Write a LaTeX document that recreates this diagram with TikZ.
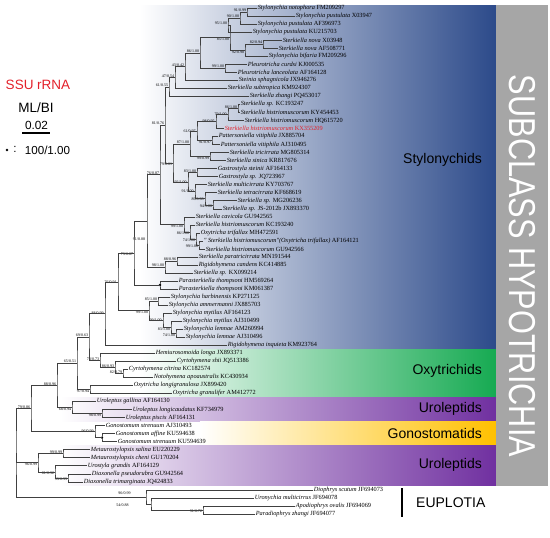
\documentclass[tikz,border=0pt]{standalone}
\usepackage{fontspec}
\setmainfont{Liberation Serif}
\newfontfamily\arialf{Liberation Sans}
\usetikzlibrary{calc}
\definecolor{stylo}{HTML}{2C4A8A}
\definecolor{oxy}{HTML}{16AA52}
\definecolor{uro}{HTML}{7030A0}
\definecolor{gono}{HTML}{FFC000}
\definecolor{hgray}{HTML}{A6A6A6}
\definecolor{ssured}{HTML}{E3202A}
\tikzset{
  leaf/.style={anchor=west, inner sep=0.6pt, font=\fontsize{6.3}{6.3}\selectfont},
  bs/.style={inner sep=0.3pt, font=\fontsize{4}{4}\selectfont},
  br/.style={draw=black!75, line width=0.45pt},
  grp/.style={anchor=east, inner sep=0pt, font=\arialf\fontsize{14}{14}\selectfont},
  legend/.style={inner sep=0pt, font=\arialf\fontsize{13.5}{13.5}\selectfont}
}
\newcommand\tx[2]{\textit{#1} #2}
\newcommand\lf[3]{\node[leaf] (L#1) at (#2,{8+8.03*(#1-1)}) {#3};}
\newcommand\tnode[4]{\path let \p1=($(#3)!0.5!(#4)$) in coordinate (#1) at (#2pt,\y1);
  \draw[br] (#3) -| (#1) |- (#4);}
\newcommand\tna[5]{\tnode{#1}{#2}{#3}{#4}\node[bs,anchor=south east] (b#1) at ([xshift=-0.4pt,yshift=-0.3pt]#1) {#5};}
\newcommand\tnb[5]{\tnode{#1}{#2}{#3}{#4}\node[bs,anchor=north east] (b#1) at ([xshift=-0.4pt,yshift=0.3pt]#1) {#5};}
\newcommand\tnc[5]{\tnode{#1}{#2}{#3}{#4}\node[bs,anchor=east] (b#1) at ([xshift=-0.8pt]#1) {#5};}
\newcommand\tnx[6]{\tnode{#1}{#2}{#3}{#4}\node[bs,anchor=east] (b#1) at (#6) {#5};}
\newcommand\tnd[4]{\tnode{#1}{#2}{#3}{#4}\fill (#1) circle (1.3pt);}
\begin{document}
\begin{tikzpicture}[x=1pt,y=-1pt]
\path[use as bounding box] (0,0) rectangle (550,538);
% coloured bands
\shade[left color=white, middle color=stylo!45, right color=stylo] (140,5) rectangle (496,349.3);
\shade[left color=white, middle color=oxy!35, right color=oxy] (140,349.3) rectangle (496,397.5);
\shade[left color=white, middle color=uro!35, right color=uro] (60,397.5) rectangle (496,421.6);
\shade[left color=white, middle color=gono!45, right color=gono] (200,421.6) rectangle (496,445.7);
\shade[left color=white, middle color=uro!35, right color=uro] (60,445.7) rectangle (496,485.8);
\fill[hgray] (496,5) rectangle (548,485.8);
\node[rotate=-90, text=white, inner sep=0pt] (sub) at (522,266)
  {\scalebox{1}[1.22]{\arialf\fontsize{30.7}{30.7}\selectfont SUBCLASS HYPOTRICHIA}};
\node[grp] (g1) at (482,160) {Stylonychids};
\node[grp] (g2) at (482,371) {Oxytrichids};
\node[grp] (g3) at (482,409) {Uroleptids};
\node[grp] (g4) at (482,433.5) {Gonostomatids};
\node[grp] (g5) at (482,465) {Uroleptids};
\coordinate (eupa) at (402,488);
\coordinate (eupb) at (402,517);
\draw[line width=1.5pt] (eupa) -- (eupb);
\node[grp, anchor=west] (g6) at (416,503) {EUPLOTIA};
% legend
\node[legend, text=ssured] (ssu) at (38,85) {SSU rRNA};
\node[legend] (mlbi) at (36,108) {ML/BI};
\node[legend, font=\arialf\fontsize{11.8}{11.8}\selectfont] (scl) at (36.5,125) {0.02};
\coordinate (sba) at (22,133);
\coordinate (sbb) at (50,133);
\draw[line width=1.3pt] (sba) -- (sbb);
\fill (7,150) circle (1.3pt);
\node[legend, font=\arialf\fontsize{11.6}{11.6}\selectfont] (legc) at (15,149.5) {:};
\node[legend, font=\arialf\fontsize{11.6}{11.6}\selectfont] (leg) at (47.5,150) {100/1.00};
% leaves
\lf{1}{257}{\tx{Stylonychia notophora}{FM209297}}
\lf{2}{295}{\tx{Stylonychia pustulata}{X03947}}
\lf{3}{257}{\tx{Stylonychia pustulata}{AF396973}}
\lf{4}{252}{\tx{Stylonychia pustulata}{KU215703}}
\lf{5}{282}{\tx{Sterkiella nova}{X03948}}
\lf{6}{278}{\tx{Sterkiella nova}{AF508771}}
\lf{7}{268}{\tx{Stylonychia bifaria}{FM209296}}
\lf{8}{247}{\tx{Pleurotricha curdsi}{KJ000535}}
\lf{9}{237}{\tx{Pleurotricha lanceolata}{AF164128}}
\lf{10}{238}{\tx{Steinia sphagnicola}{JX946276}}
\lf{11}{227}{\tx{Sterkiella subtropica}{KM924307}}
\lf{12}{249}{\tx{Sterkiella zhangi}{PQ453017}}
\lf{13}{240}{\tx{Sterkiella sp.}{KC193247}}
\lf{14}{240}{\tx{Sterkiella histriomuscorum}{KY454453}}
\lf{15}{244}{\tx{Sterkiella histriomuscorum}{HQ615720}}
\lf{16}{224}{\color{ssured}\tx{Sterkiella histriomuscorum}{KX355209}}
\lf{17}{218}{\tx{Pattersoniella vitiphila}{JX885704}}
\lf{18}{220}{\tx{Pattersoniella vitiphila}{AJ310495}}
\lf{19}{229}{\tx{Sterkiella tricirrata}{MG805314}}
\lf{20}{226}{\tx{Sterkiella sinica}{KR817676}}
\lf{21}{217}{\tx{Gastrostyla steinii}{AF164133}}
\lf{22}{218}{\tx{Gastrostyla sp.}{JQ723967}}
\lf{23}{207}{\tx{Sterkiella multicirrata}{KY703767}}
\lf{24}{217}{\tx{Sterkiella tetracirrata}{KF668619}}
\lf{25}{237}{\tx{Sterkiella sp.}{MG206236}}
\lf{26}{222}{\tx{Sterkiella sp.}{JS-2012b JX893370}}
\lf{27}{195}{\tx{Sterkiella cavicola}{GU942565}}
\lf{28}{195}{\tx{Sterkiella histriomuscorum}{KC193240}}
\lf{29}{200}{\tx{Oxytricha trifallax}{MH472591}}
\lf{30}{203}{\textit{\textquotedbl\ Sterkiella histriomuscorum\textquotedbl(Oxytricha trifallax)} AF164121}
\lf{31}{205}{\tx{Sterkiella histriomuscorum}{GU942566}}
\lf{32}{198}{\tx{Sterkiella paratricirrata}{MN191544}}
\lf{33}{198}{\tx{Rigidohymena candens}{KC414885}}
\lf{34}{193}{\tx{Sterkiella sp.}{KX099214}}
\lf{35}{178}{\tx{Parasterkiella thompsoni}{HM569264}}
\lf{36}{178}{\tx{Parasterkiella thompsoni}{KM061387}}
\lf{37}{170}{\tx{Stylonychia harbinensis}{KP271125}}
\lf{38}{168}{\tx{Stylonychia ammermanni}{JX885703}}
\lf{39}{172}{\tx{Stylonychia mytilus}{AF164123}}
\lf{40}{182}{\tx{Stylonychia mytilus}{AJ310499}}
\lf{41}{183}{\tx{Stylonychia lemnae}{AM260994}}
\lf{42}{185}{\tx{Stylonychia lemnae}{AJ310496}}
\lf{43}{227}{\tx{Rigidohymena inquieta}{KM923764}}
\lf{44}{155}{\tx{Hemiurosomoida longa}{JX893371}}
\lf{45}{176}{\tx{Cyrtohymena shii}{JQ513386}}
\lf{46}{128}{\tx{Cyrtohymena citrina}{KC182574}}
\lf{47}{153}{\tx{Notohymena apoaustralis}{KC430934}}
\lf{48}{133}{\tx{Oxytricha longigranulosa}{JX899420}}
\lf{49}{172}{\tx{Oxytricha granulifer}{AM412772}}
\lf{50}{96}{\tx{Uroleptus gallina}{AF164130}}
\lf{51}{132}{\tx{Uroleptus longicaudatus}{KF734979}}
\lf{52}{125}{\tx{Uroleptus piscis}{AF164131}}
\lf{53}{105}{\tx{Gonostomum strenuum}{AJ310493}}
\lf{54}{115}{\tx{Gonostomum affine}{KU594638}}
\lf{55}{117}{\tx{Gonostomum strenuum}{KU594639}}
\lf{56}{90}{\tx{Metaurostylopsis salina}{EU220229}}
\lf{57}{90}{\tx{Metaurostylopsis cheni}{GU170204}}
\lf{58}{87}{\tx{Urostyla grandis}{AF164129}}
\lf{59}{91}{\tx{Diaxonella pseudorubra}{GU942564}}
\lf{60}{83}{\tx{Diaxonella trimarginata}{JQ424833}}
\lf{61}{313}{\tx{Diophrys scutum}{JF694073}}
\lf{62}{254}{\tx{Uronychia multicirrus}{JF694078}}
\lf{63}{295}{\tx{Apodiophrys ovalis}{JF694069}}
\lf{64}{255}{\tx{Paradiophrys zhangi}{JF694077}}
% internal nodes
\tna{a1}{247}{L1.west}{L2.west}{91/0.99}
\tna{a2}{240}{a1}{L3.west}{90/1.00}
\tna{a3}{228}{a2}{L4.west}{95/1.00}
\tna{a4}{263}{L5.west}{L6.west}{82/0.94}
\tnb{a5}{245}{a4}{L7.west}{92/0.98}
\tnb{a6}{230}{a3}{a5}{85/1.00}
\tna{a7}{225}{L8.west}{L9.west}{99/1.00}
\tna{a8}{200}{a6}{a7}{86/1.00}
\tna{a9}{185}{a8}{L10.west}{43/0.42}
\tna{a10}{175}{a9}{L11.west}{47/0.54}
\tna{a11}{169}{a10}{L12.west}{61/0.55}
\tna{b1}{238}{L13.west}{L14.west}{86/1.00}
\tnc{b2}{228}{b1}{L15.west}{79/1.00}
\tnc{b3}{216}{b2}{L16.west}{98/0.95}
\tnb{b4}{212}{L17.west}{L18.west}{91/0.97}
\tnc{b5}{197}{b3}{b4}{61/0.97}
\tnb{b6}{210}{L19.west}{L20.west}{99/0.99}
\tna{b7}{190}{b5}{b6}{87/1.00}
\tna{b8}{197}{L21.west}{L22.west}{83/1.00}
\tnb{b9}{213}{L25.west}{L26.west}{94/1.00}
\tnc{b10}{205}{L24.west}{b9}{89/0.98}
\tnc{b11}{195}{L23.west}{b10}{91/1.00}
\tnc{b12}{188}{b8}{b11}{92/1.00}
\tnb{b13}{173}{b7}{b12}{79/0.61}
\tna{b14}{165}{a11}{b13}{81/0.76}
\tnb{c1}{199}{L30.west}{L31.west}{99/1.00}
\tnb{c2}{196}{L29.west}{c1}{74/1.00}
\tnb{c3}{190}{L28.west}{c2}{86/1.00}
\tnb{c4}{184}{L27.west}{c3}{99/1.00}
\tna{c5}{160}{b14}{c4}{76/0.87}
\tna{c6}{177}{L32.west}{L33.west}{88/0.96}
\tna{c7}{165}{c6}{L34.west}{98/1.00}
\tnx{c8}{147}{c5}{c7}{91/0.88}{145.5,239}
\tnd{c9}{160}{L35.west}{L36.west}
\tnb{c10}{134}{c8}{c9}{79/0.87}
\tna{d1}{158}{L37.west}{L38.west}{85/1.00}
\tnb{d2}{176}{L41.west}{L42.west}{74/1.00}
\tnb{d3}{171}{L40.west}{d2}{83/1.00}
\tnc{d4}{163}{L39.west}{d3}{99/1.00}
\tnb{d5}{149}{d1}{d4}{99/1.00}
\tnc{d6}{118}{c10}{d5}{76/0.91}
\tnc{d7}{105}{d6}{L43.west}{88/0.99}
\tna{e1}{123}{L46.west}{L47.west}{82/0.79}
\tna{e2}{115}{L45.west}{e1}{86/0.93}
\tna{e3}{100}{L44.west}{e2}{78/0.73}
\tna{e4}{89}{d7}{e3}{69/0.63}
\tnb{e5}{90}{L48.west}{L49.west}{97/0.94}
\tna{e6}{77}{e4}{e5}{65/0.51}
\tnb{f1}{102}{L51.west}{L52.west}{98/0.99}
\tnb{f2}{72}{L50.west}{f1}{68/0.94}
\tna{f3}{57}{e6}{f2}{88/0.96}
\tnd{g2}{102}{L54.west}{L55.west}
\tnc{g1}{95}{L53.west}{g2}{96/0.99}
\tna{p}{31}{f3}{g1}{79/0.86}
\tna{m1}{63}{L56.west}{L57.west}{99/0.99}
\tnb{m2}{68}{L59.west}{L60.west}{99/0.99}
\tnb{m3}{55}{L58.west}{m2}{81/0.92}
\tnb{u}{38}{m1}{m3}{96/0.99}
\tnb{x3}{203}{L63.west}{L64.west}{91/0.72}
\tnx{x2}{151}{L62.west}{x3}{54/0.88}{129,505.5}
\tnx{x1}{146}{L61.west}{x2}{96/0.99}{131,493.5}
\path let \p1=($(p)!0.5!(x1)$) in coordinate (root) at (16pt,\y1);
\draw[br] (p) -| (root) |- (x1);
\draw[br] (u) -| (root);
\end{tikzpicture}
\end{document}
